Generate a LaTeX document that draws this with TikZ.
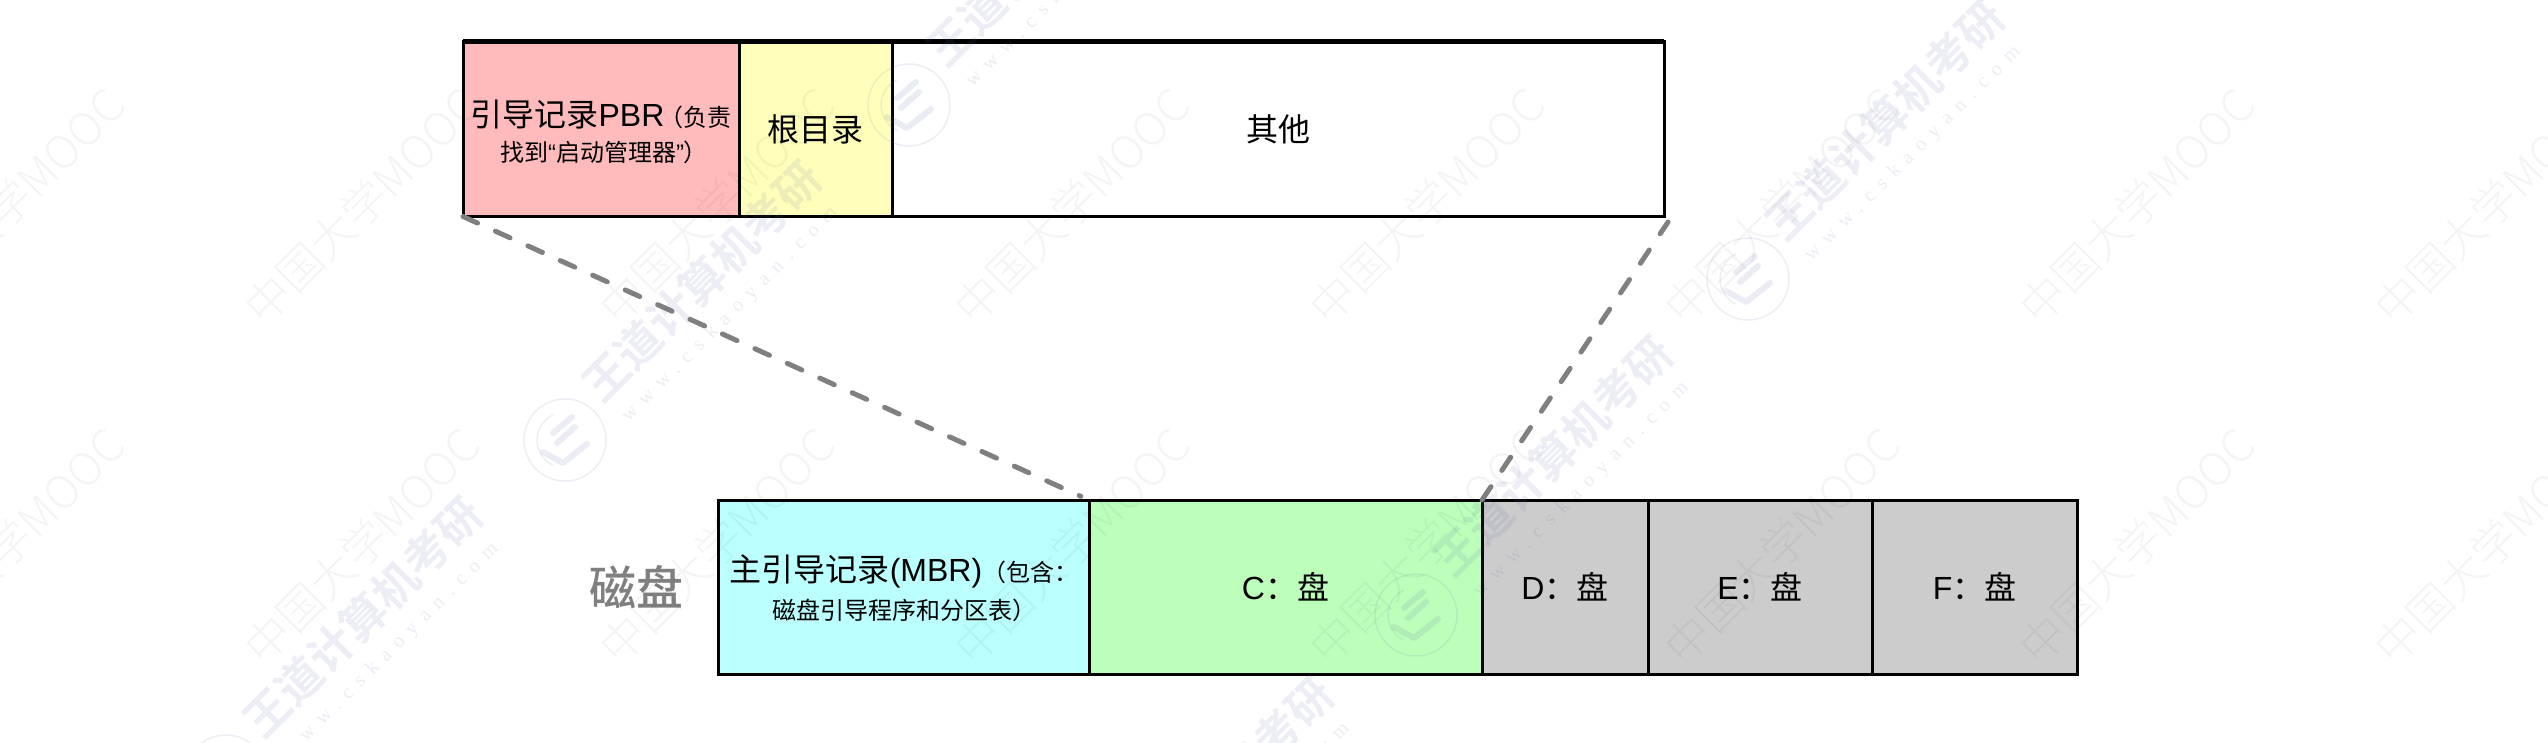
\documentclass[tikz,border=0pt]{standalone}
\usepackage{fontspec}
\setmainfont{Liberation Sans}
\newfontfamily\cjk{Noto Sans CJK SC}
\newfontfamily\cjkmed{Noto Sans CJK SC Medium}
\newfontfamily\cjkbold{Noto Sans CJK SC Bold}
\newfontfamily\wmcjk{Noto Sans CJK SC Light}
\newfontfamily\wmurl[LetterSpace=45]{Liberation Serif}
\newcommand{\bigtxt}{\fontsize{32}{39}\selectfont}
\newcommand{\smalltxt}{\fontsize{24}{39}\selectfont}
\tikzset{
  seg/.style={draw=black,line width=3pt,inner sep=0pt,outer sep=0pt,minimum height=175pt},
  lbl/.style={inner sep=0pt,outer sep=0pt,text=black,align=center},
  zoomline/.style={draw=gray,line width=5pt,line cap=round,dash pattern=on 16pt off 19.6pt},
  wmmooc/.style={rotate=45,inner sep=0pt,text=black,text opacity=0.045,font=\wmcjk\fontsize{45}{45}\selectfont},
  wmbrand/.style={rotate=45,inner sep=0pt,text=wmblue,text opacity=0.115,font=\cjkbold\fontsize{45}{45}\selectfont},
  wmsite/.style={rotate=45,inner sep=0pt,text=wmblue,text opacity=0.12,font=\wmurl\fontsize{20}{20}\selectfont},
  wmseal/.style={draw=wmblue,draw opacity=0.11,line width=1.5pt},
  wmsealthick/.style={draw=wmblue,draw opacity=0.12,line width=6pt,line cap=round,line join=round},
}
\definecolor{wmblue}{HTML}{5A64A8}
\definecolor{pbrc}{HTML}{FFBBBB}
\definecolor{rootc}{HTML}{FFFFBB}
\definecolor{mbrc}{HTML}{BBFFFF}
\definecolor{cdisk}{HTML}{BBFFBB}
\definecolor{gdisk}{HTML}{CCCCCC}
\begin{document}
\begin{tikzpicture}[x=1pt,y=-1pt]
\useasboundingbox (0,0) rectangle (2548,742);
% top partition
\node[seg,fill=pbrc,minimum width=276pt] (pbr) at (601,129) {};
\node[seg,fill=rootc,minimum width=153pt] (root) at (815.5,129) {\bigtxt\cjk 根目录};
\node[seg,fill=white,minimum width=772pt] (other) at (1278,129) {\bigtxt\cjk 其他};
\draw[line width=5pt] (pbr.north west) -- (other.north east);
\node[lbl,font=\bigtxt] (pbrone) at (601,115) {{\cjk 引导记录}PBR\hspace{-5pt}{\smalltxt\cjk （负责}};
\node[lbl,font=\smalltxt] (pbrtwo) at (604,152) {{\cjk 找到}“{\cjk 启动管理器}”{\cjk ）}};
% bottom disk
\node[lbl,text=gray,font=\fontsize{47}{47}\selectfont\cjkmed] (disk) at (636,587) {磁盘};
\node[seg,fill=mbrc,minimum width=371pt,minimum height=174pt] (mbr) at (903.5,587) {};
\node[seg,fill=cdisk,minimum width=393pt,minimum height=174pt] (c) at (1285.5,587) {\bigtxt C{\cjk ：盘}};
\node[seg,fill=gdisk,minimum width=166pt,minimum height=174pt] (d) at (1565,587) {\bigtxt D{\cjk ：盘}};
\node[seg,fill=gdisk,minimum width=224pt,minimum height=174pt] (e) at (1760,587) {\bigtxt E{\cjk ：盘}};
\node[seg,fill=gdisk,minimum width=205pt,minimum height=174pt] (f) at (1974.5,587) {\bigtxt F{\cjk ：盘}};
\node[lbl,font=\bigtxt] (mbrone) at (904,571) {{\cjk 主引导记录}(MBR){\smalltxt\cjk （包含：}};
\node[lbl,font=\smalltxt\cjk] (mbrtwo) at (904,610) {磁盘引导程序和分区表）};
% connectors
\coordinate (rt) at (1668,222);
\draw[zoomline,shorten >=9pt] (pbr.south west) -- (c.north west);
\draw[zoomline] (c.north east) -- (rt);
% watermarks
\foreach \wy [count=\r] in {206,546}
  \foreach \wx [count=\q] in {7,362,717,1072,1427,1782,2137,2492}
    \node[wmmooc] (moocwm\r\q) at (\wx,\wy) {中国大学MOOC};
\foreach \bx/\by [count=\k] in {702/281,363/617,1046/-54,1553/456,1885/120,1214/797}{
  \node[wmbrand] (brand\k) at (\bx,\by) {王道计算机考研};
  \node[wmsite] (site\k) at (\bx+28,\by+34) {www.cskaoyan.com};
  \begin{scope}[shift={(\bx-137,\by+159)}]
    \draw[wmseal] (0,0) circle[radius=41pt];
    \draw[wmseal] (-12,-25) arc[start angle=115,end angle=245,radius=27.7pt];
    \draw[wmsealthick] (-22,12) -- (-2,23) -- (22,4);
    \draw[wmsealthick] (-12,-7) -- (7,-23);
    \draw[wmsealthick] (-8,3) -- (10,-13);
  \end{scope}
}
\end{tikzpicture}
\end{document}
